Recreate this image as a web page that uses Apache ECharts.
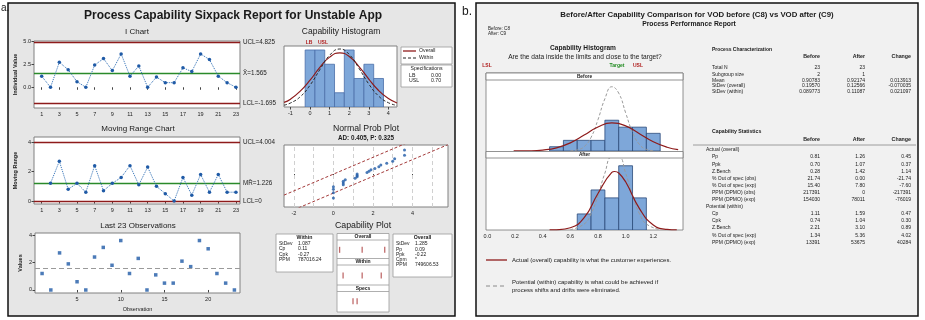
<!DOCTYPE html>
<html><head><meta charset="utf-8">
<script src="https://cdn.jsdelivr.net/npm/echarts@6/dist/echarts.min.js"></script>
<style>html,body{margin:0;padding:0;background:#fff}#c{width:925px;height:320px}</style>
</head><body><div id="c"></div>
<script>
// ---------- DATA ----------
const observations = [1.2,0,2.7,1.9,0.6,0,2.4,3.1,1.8,3.6,1.2,2.3,0,1.1,0.5,0.5,2.1,1.7,3.6,3.0,1.2,0.5,0];
const movingRanges = [1.2,2.7,0.8,1.2,0.6,2.4,0.7,1.2,1.6,2.4,1.1,2.3,1.0,0.5,0,1.6,0.4,1.8,0.6,1.8,0.6,0.6];
const iChartLimits = [4.825, 1.565, -1.695];
const iChartLimitLabels = ['UCL=4.825', 'X\u0304=1.565', 'LCL=-1.695'];
const mrLimits = [4.004, 1.226, 0];
const mrLimitLabels = ['UCL=4.004', 'MR\u0304=1.226', 'LCL=0'];
const obsMean = 1.565;
const iTicksX = [1,3,5,7,9,11,13,15,17,19,21,23];
const iTicksY = [0, 2.5, 5];
const mrTicksY = [0, 2, 4];
const lastTicksX = [5, 10, 15, 20];
const lastTicksY = [0, 2, 4];

const histBinStarts = [-0.25,0.25,0.75,1.25,1.75,2.25,2.75,3.25];
const histCounts = [4,4,3,1,4,2,3,2];
const histBinWidth = 0.5;
const histTicks = [-1,0,1,2,3,4];
const histOverallCurve = [[-1.33,0.32],[-1,0.55],[-0.5,1.11],[0,1.88],[0.5,2.78],[1,3.5],[1.52,3.8],[2,3.55],[2.5,2.84],[3,1.96],[3.5,1.16],[4,0.59],[4.44,0.28]];
const histWithinCurve = [[-1.33,0.13],[-1,0.28],[-0.5,0.72],[0,1.53],[0.5,2.62],[1,3.63],[1.52,4.07],[2,3.69],[2.5,2.71],[3,1.61],[3.5,0.77],[4,0.3],[4.44,0.11]];

const probValues = [0,0,0,0,0.5,0.5,0.5,0.6,1.1,1.2,1.2,1.2,1.7,1.8,1.9,2.1,2.3,2.4,2.7,3.0,3.1,3.6,3.6];
const probScores = [-1.88,-1.46,-1.2,-1.0,-0.84,-0.7,-0.57,-0.44,-0.33,-0.22,-0.11,0,0.11,0.22,0.33,0.44,0.57,0.7,0.84,1.0,1.2,1.46,1.88];
const probUpperBand = [[-2.5,-1.65],[3.9,2.55]];
const probLowerBand = [[-2.0,-2.8],[5.8,2.3]];
const probTicks = [-2,0,2,4];
const probGridLines = [-2,-1,0,1,2,3,4,5];

const capRows = ['Overall','Within','Specs'];
const capOverallMarks = [-2.29, 1.565, 5.42];
const capWithinMarks = [-1.695, 1.565, 4.825];
const capSpecMarks = [0, 0.7];

const withinStats = [['StDev','1.087'],['Cp','0.11'],['Cpk','-0.27'],['PPM','787016.24']];
const overallStats = [['StDev','1.285'],['Pp','0.09'],['Ppk','-0.22'],['Cpm','*'],['PPM','749606.53']];
const specStats = [['LB','0.00'],['USL','0.70']];

const baTicks = [0,0.2,0.4,0.6,0.8,1.0,1.2];
const baBinWidth = 0.1;
const beforeBinStarts = [0.45,0.55,0.65,0.75,0.85,0.95,1.05,1.15];
const beforePercent = [2.35,5.85,5.85,5.85,16.9,13.1,13.1,9.7];
const afterBinStarts = [0.65,0.75,0.85,0.95,1.05];
const afterPercent = [8.7,21.7,17.4,34.8,17.4];
const beforeOverallCurve = [[0.19,0.05],[0.3,0.12],[0.4,0.53],[0.5,1.76],[0.6,4.47],[0.7,8.74],[0.8,13.2],[0.9,15.4],[1.0,13.8],[1.1,9.5],[1.2,5.06],[1.3,2.08],[1.38,0.8]];
const beforeWithinCurve = [[0.6,0.1],[0.65,0.6],[0.7,2.4],[0.75,7.5],[0.8,17.2],[0.85,28.7],[0.9,35.3],[0.95,31.8],[1.0,21.0],[1.05,10.2],[1.1,3.6],[1.15,0.9],[1.2,0.2]];
const afterOverallCurve = [[0.45,0.03],[0.5,0.11],[0.6,1.19],[0.7,6.65],[0.8,19.8],[0.9,31.2],[0.92,31.7],[0.95,30.9],[1.0,26.1],[1.1,11.6],[1.2,2.75],[1.3,0.35],[1.37,0.05]];
const afterWithinCurve = [[0.6,0.2],[0.7,3.25],[0.75,8.8],[0.8,18.7],[0.85,30.8],[0.9,39.5],[0.95,39.5],[1.0,30.8],[1.05,18.7],[1.1,8.8],[1.15,3.25],[1.25,0.2]];

const procLabels = ['Total N','Subgroup size','Mean','StDev (overall)','StDev (within)'];
const procBefore = ['23','2','0.90783','0.19570','0.089773'];
const procAfter = ['23','1','0.92174','0.12566','0.11087'];
const procChange = ['','','0.013913','-0.070035','0.021097'];
const capStatLabels = ['Actual (overall)','Pp','Ppk','Z.Bench','% Out of spec (obs)','% Out of spec (exp)','PPM (DPMO) (obs)','PPM (DPMO) (exp)','Potential (within)','Cp','Cpk','Z.Bench','% Out of spec (exp)','PPM (DPMO) (exp)'];
const capStatBefore = ['','0.81','0.70','0.28','21.74','15.40','217391','154030','','1.11','0.74','2.21','1.34','13391'];
const capStatAfter = ['','1.26','1.07','1.42','0.00','7.80','0','78011','','1.59','1.04','3.10','5.36','53675'];
const capStatChange = ['','0.45','0.37','1.14','-21.74','-7.60','-217391','-76019','','0.47','0.30','0.89','4.02','40284'];

// ---------- RENDER ----------
const FF = '"Liberation Sans", Arial, sans-serif';
const RED = '#8e1b1b', GREEN = '#2a8a2a', BLUE = '#1f5aa6', BAR = '#7ea7d9', BAREDGE = '#4a6fa8';
const chart = echarts.init(document.getElementById('c'), null, {renderer:'canvas'});

function txt(x, y, text, o) {
  o = o || {};
  return {type:'text', z:100, silent:true, style:{x:x, y:y, text:text, fill:o.fill||'#1a1a1a',
    font:(o.bold?'bold ':'') + (o.size||6) + 'px ' + FF, textAlign:o.align||'left', textVerticalAlign:'middle'}};
}
function rect(x, y, w, h, fill, stroke, lw, z) {
  return {type:'rect', z:z==null?-5:z, silent:true, shape:{x:x,y:y,width:w,height:h}, style:{fill:fill, stroke:stroke||null, lineWidth:lw||1}};
}
function seg(x1, y1, x2, y2, stroke, lw, dash, z) {
  return {type:'line', z:z==null?50:z, silent:true, shape:{x1:x1,y1:y1,x2:x2,y2:y2}, style:{stroke:stroke, lineWidth:lw||1, lineDash:dash||null}};
}
function grid(l, t, w, h, show) {
  return {left:l, top:t, width:w, height:h, show:show!==false, backgroundColor:'#fff', borderColor:'#808080', borderWidth:1, containLabel:false, outerBoundsMode:'none'};
}
function vAxis(gi, min, max, ticks, extra) {
  const a = {type:'value', gridIndex:gi, min:min, max:max, axisLine:{show:false}, splitLine:{show:false},
    axisTick:{show:!!ticks, customValues:ticks, length:2.5, lineStyle:{color:'#444'}},
    axisLabel:{show:!!ticks, customValues:ticks, fontSize:5.5, margin:3, color:'#222', fontFamily:FF}};
  return Object.assign(a, extra || {});
}
function binItem(width, fill, edge) {
  return function (params, api) {
    const p0 = api.coord([api.value(0), api.value(1)]);
    const p1 = api.coord([api.value(0) + width, 0]);
    return {type:'rect', shape:{x:p0[0], y:p0[1], width:p1[0]-p0[0], height:p1[1]-p0[1]}, style:{fill:fill, stroke:edge, lineWidth:0.8}};
  };
}
function limitLines(vals, labels) {
  return {symbol:['none','none'], silent:true, animation:false,
    label:{position:'end', fontSize:6.3, color:'#222', distance:3, fontFamily:FF},
    data: vals.map((v,k)=>({yAxis:v, lineStyle:{color:k===1?GREEN:RED, width:1.3, type:'solid'}, label:{formatter:labels[k]}}))};
}

const yName = (n, gap) => ({name:n, nameLocation:'middle', nameRotate:90, nameGap:gap, nameTextStyle:{fontSize:5.5, fontWeight:'bold', color:'#222', fontFamily:FF}});

const grids = [
  grid(34, 41, 206, 67),    // 0 I chart
  grid(34, 137, 206, 67),   // 1 MR chart
  grid(35, 233, 205, 60),   // 2 last 23
  grid(284, 46, 113, 61),   // 3 capability histogram
  grid(284, 145, 164, 62),  // 4 normal prob plot
  grid(337, 237, 52, 77, false), // 5 capability plot
  grid(486, 80, 197, 71, false), // 6 before
  grid(486, 158, 197, 72, false) // 7 after
];
const xAxes = [
  vAxis(0, 0.13, 23.46, iTicksX),
  vAxis(1, 0.13, 23.46, iTicksX),
  vAxis(2, 0.19, 23.64, lastTicksX, {name:'Observation', nameLocation:'middle', nameGap:13, nameTextStyle:{fontSize:5.5, color:'#222', fontFamily:FF}}),
  vAxis(3, -1.33, 4.44, histTicks),
  vAxis(4, -2.5, 5.8, probTicks),
  vAxis(5, -2.735, 6.15, null),
  vAxis(6, -0.01, 1.415, null),
  vAxis(7, -0.01, 1.415, baTicks)
];
xAxes[7].axisLabel.formatter = v => v.toFixed(1);
xAxes[7].axisTick.show = false;
const yAxes = [
  vAxis(0, -2.24, 5.0, iTicksY, yName('Individual Value', 16)),
  vAxis(1, -0.2, 4.34, mrTicksY, yName('Moving Range', 16)),
  vAxis(2, -0.22, 4.15, lastTicksY, yName('Values', 12)),
  vAxis(3, 0, 4.28, null),
  vAxis(4, -2.58, 2.27, null),
  {type:'category', gridIndex:5, data:capRows, inverse:true, show:false},
  vAxis(6, 0, 39, null),
  vAxis(7, 0, 39, null)
];
yAxes[0].axisLabel.formatter = v => v.toFixed(1);

const series = [
  {type:'line', xAxisIndex:0, yAxisIndex:0, data:observations.map((v,i)=>[i+1,v]), symbol:'circle', symbolSize:3.5,
   itemStyle:{color:BLUE}, lineStyle:{type:'dotted', width:1, color:'#2c6db5'}, z:5, markLine:limitLines(iChartLimits, iChartLimitLabels)},
  {type:'line', xAxisIndex:1, yAxisIndex:1, data:movingRanges.map((v,i)=>[i+2,v]), symbol:'circle', symbolSize:3.5,
   itemStyle:{color:BLUE}, lineStyle:{type:'dotted', width:1, color:'#2c6db5'}, z:5, markLine:limitLines(mrLimits, mrLimitLabels)},
  {type:'scatter', xAxisIndex:2, yAxisIndex:2, data:observations.map((v,i)=>[i+1,v]), symbol:'rect', symbolSize:3.5, itemStyle:{color:BLUE},
   markLine:{symbol:['none','none'], silent:true, label:{show:false}, lineStyle:{color:'#9a9a9a', type:[5,3], width:1.2}, data:[{yAxis:obsMean}]}},
  {type:'custom', xAxisIndex:3, yAxisIndex:3, data:histBinStarts.map((s,i)=>[s,histCounts[i]]), renderItem:binItem(histBinWidth, BAR, BAREDGE), clip:true},
  {type:'line', xAxisIndex:3, yAxisIndex:3, data:histOverallCurve, smooth:true, symbol:'none', lineStyle:{color:RED, width:1.2}, z:6},
  {type:'line', xAxisIndex:3, yAxisIndex:3, data:histWithinCurve, smooth:true, symbol:'none', lineStyle:{color:'#2a2a2a', width:1, type:[3,2]}, z:7},
  {type:'scatter', xAxisIndex:4, yAxisIndex:4, data:probValues.map((v,i)=>[v,probScores[i]]), symbol:'circle', symbolSize:3, itemStyle:{color:BLUE}, z:6,
   markLine:{symbol:['none','none'], silent:true, label:{show:false}, lineStyle:{color:'#d0d0d0', type:[4,3], width:1}, data:probGridLines.map(v=>({xAxis:v}))}},
  {type:'line', xAxisIndex:4, yAxisIndex:4, data:probUpperBand, symbol:'none', lineStyle:{color:'#a33a3a', width:1, type:[3,2]}, z:5},
  {type:'line', xAxisIndex:4, yAxisIndex:4, data:probLowerBand, symbol:'none', lineStyle:{color:'#a33a3a', width:1, type:[3,2]}, z:5},
  {type:'scatter', xAxisIndex:5, yAxisIndex:5, data:[].concat(capOverallMarks.map(v=>[v,'Overall']), capWithinMarks.map(v=>[v,'Within']), capSpecMarks.map(v=>[v,'Specs'])),
   symbol:'rect', symbolSize:[1.3,6], itemStyle:{color:'#b04646'}, z:60},
  {type:'custom', xAxisIndex:6, yAxisIndex:6, data:beforeBinStarts.map((s,i)=>[s,beforePercent[i]]), renderItem:binItem(baBinWidth, BAR, '#2b4a7a'), clip:true},
  {type:'line', xAxisIndex:6, yAxisIndex:6, data:beforeOverallCurve, smooth:true, symbol:'none', lineStyle:{color:RED, width:1.2}, z:7},
  {type:'line', xAxisIndex:6, yAxisIndex:6, data:beforeWithinCurve, smooth:true, symbol:'none', lineStyle:{color:'#9a9a9a', width:1, type:[3,2]}, z:6},
  {type:'custom', xAxisIndex:7, yAxisIndex:7, data:afterBinStarts.map((s,i)=>[s,afterPercent[i]]), renderItem:binItem(baBinWidth, BAR, '#2b4a7a'), clip:true},
  {type:'line', xAxisIndex:7, yAxisIndex:7, data:afterOverallCurve, smooth:true, symbol:'none', lineStyle:{color:RED, width:1.2}, z:7},
  {type:'line', xAxisIndex:7, yAxisIndex:7, data:afterWithinCurve, smooth:true, symbol:'none', lineStyle:{color:'#9a9a9a', width:1, type:[3,2]}, z:6}
];

// ---------- graphic (panels, titles, tables) ----------
const G = [];
G.push(rect(8, 3, 447, 313, '#e6e6e6', '#111', 1.5, -20));
G.push(rect(476, 3, 442, 313, '#f1f1f1', '#111', 1.5, -20));
G.push(txt(1, 8, 'a.', {size:10}));
G.push(txt(462, 12, 'b.', {size:12}));
G.push(txt(233, 16, 'Process Capability Sixpack Report for Unstable App', {size:12, bold:true, align:'center'}));
G.push(txt(137, 32, 'I Chart', {size:8, align:'center'}));
G.push(txt(138, 129, 'Moving Range Chart', {size:8, align:'center'}));
G.push(txt(138, 226, 'Last 23 Observations', {size:8, align:'center'}));
G.push(txt(341, 32, 'Capability Histogram', {size:8.5, align:'center'}));
G.push(txt(309, 42.5, 'LB', {size:5, fill:'#b02020', bold:true, align:'center'}));
G.push(txt(323, 42.5, 'USL', {size:5, fill:'#b02020', bold:true, align:'center'}));
// histogram legend + specs
G.push(rect(401, 47, 51, 17, '#fff', '#9a9a9a', 0.8, -2));
G.push(seg(403, 51, 416, 51, RED, 1.3));
G.push(txt(419, 51, 'Overall', {size:5.2}));
G.push(seg(403, 58, 416, 58, '#222', 1, [3,2]));
G.push(txt(419, 58, 'Within', {size:5.2}));
G.push(rect(401, 65, 51, 22, '#fff', '#9a9a9a', 0.8, -2));
G.push(txt(426.5, 69, 'Specifications', {size:5.2, align:'center'}));
specStats.forEach((r,i)=>{ G.push(txt(409, 75.5+i*5.5, r[0], {size:5.2})); G.push(txt(431, 75.5+i*5.5, r[1], {size:5.2})); });
G.push(txt(366, 129, 'Normal Prob Plot', {size:8.7, align:'center'}));
G.push(txt(366, 138, 'AD: 0.405, P: 0.325', {size:6.3, bold:true, align:'center'}));
G.push(txt(363, 226, 'Capability Plot', {size:8.8, align:'center'}));
// within box
G.push(rect(276, 234, 57, 38, '#fff', '#9a9a9a', 0.8, -2));
G.push(txt(304.5, 237.5, 'Within', {size:5.2, bold:true, align:'center'}));
withinStats.forEach((r,i)=>{ G.push(txt(279, 243.3+i*5.5, r[0], {size:5})); G.push(txt(298, 243.3+i*5.5, r[1], {size:5})); });
// overall box
G.push(rect(393, 234, 59, 43, '#fff', '#9a9a9a', 0.8, -2));
G.push(txt(422.5, 237.5, 'Overall', {size:5.2, bold:true, align:'center'}));
overallStats.forEach((r,i)=>{ G.push(txt(396, 244+i*5.2, r[0], {size:5})); G.push(txt(415, 244+i*5.2, r[1], {size:5})); });
// capability plot middle box
G.push(rect(337, 233.5, 52, 78.5, '#fff', '#9a9a9a', 0.8, -2));
[[233.5,'Overall'],[258.5,'Within'],[285,'Specs']].forEach(h=>{
  G.push(seg(337, h[0]+6.5, 389, h[0]+6.5, '#9a9a9a', 0.8, null, 1));
  if (h[0] > 240) G.push(seg(337, h[0], 389, h[0], '#9a9a9a', 0.8, null, 1));
  G.push(txt(363, h[0]+3.4, h[1], {size:5, bold:true, align:'center'}));
});

// right panel
G.push(txt(697, 15, 'Before/After Capability Comparison for VOD before (C8) vs VOD after (C9)', {size:7.8, bold:true, align:'center'}));
G.push(txt(689, 24.5, 'Process Performance Report', {size:6.8, bold:true, align:'center'}));
G.push(txt(488, 29, 'Before: C8', {size:4.6}));
G.push(txt(488, 34, 'After: C9', {size:4.6}));
G.push(txt(583, 48, 'Capability Histogram', {size:6.6, bold:true, align:'center'}));
G.push(txt(585, 57, 'Are the data inside the limits and close to the target?', {size:6.6, align:'center'}));
G.push(txt(487, 66, 'LSL', {size:5, bold:true, fill:'#b02020', align:'center'}));
G.push(txt(617, 66, 'Target', {size:5, bold:true, fill:'#1f8a1f', align:'center'}));
G.push(txt(638, 66, 'USL', {size:5, bold:true, fill:'#b02020', align:'center'}));
G.push(rect(486, 73, 197, 157, '#fff', '#777', 0.8, -3));
G.push(rect(486, 73, 197, 7, '#fff', '#777', 0.8, -2));
G.push(txt(584.5, 76.6, 'Before', {size:4.8, bold:true, align:'center'}));
G.push(rect(486, 151.5, 197, 6.5, '#fff', '#777', 0.8, 40));
G.push(txt(584.5, 154.8, 'After', {size:4.8, bold:true, align:'center'}));
G.push(seg(486, 260, 507, 260, RED, 1.3));
G.push(txt(512, 260, 'Actual (overall) capability is what the customer experiences.', {size:6}));
G.push(seg(486, 286, 507, 286, '#8a8a8a', 1, [4,3]));
G.push(txt(512, 282.5, 'Potential (within) capability is what could be achieved if', {size:6}));
G.push(txt(512, 290, 'process shifts and drifts were eliminated.', {size:6}));

// tables
const colX = [820, 865, 911];
G.push(txt(712, 50, 'Process Characterization', {size:5, bold:true}));
['Before','After','Change'].forEach((h,k)=>G.push(txt(colX[k], 57, h, {size:5.3, bold:true, align:'right'})));
const procY = [67.5, 74.5, 80.5, 86, 91.5];
procLabels.forEach((l,i)=>{
  G.push(txt(712, procY[i], l, {size:5}));
  [procBefore, procAfter, procChange].forEach((arr,k)=>G.push(txt(colX[k], procY[i], arr[i], {size:5, align:'right'})));
});
G.push(txt(712, 132, 'Capability Statistics', {size:5.2, bold:true}));
['Before','After','Change'].forEach((h,k)=>G.push(txt(colX[k], 139.5, h, {size:5.3, bold:true, align:'right'})));
G.push(seg(693, 145, 916, 145, '#888', 0.8));
capStatLabels.forEach((l,i)=>{
  const head = capStatBefore[i] === '';
  const y = 150 + i*7.1;
  G.push(txt(head ? 706 : 712, y, l, {size:5}));
  [capStatBefore, capStatAfter, capStatChange].forEach((arr,k)=>G.push(txt(colX[k], y, arr[i], {size:5, align:'right'})));
});

chart.setOption({
  animation:false,
  backgroundColor:'#ffffff',
  textStyle:{fontFamily:FF},
  grid:grids, xAxis:xAxes, yAxis:yAxes, series:series, graphic:G
});
</script>
</body></html>
